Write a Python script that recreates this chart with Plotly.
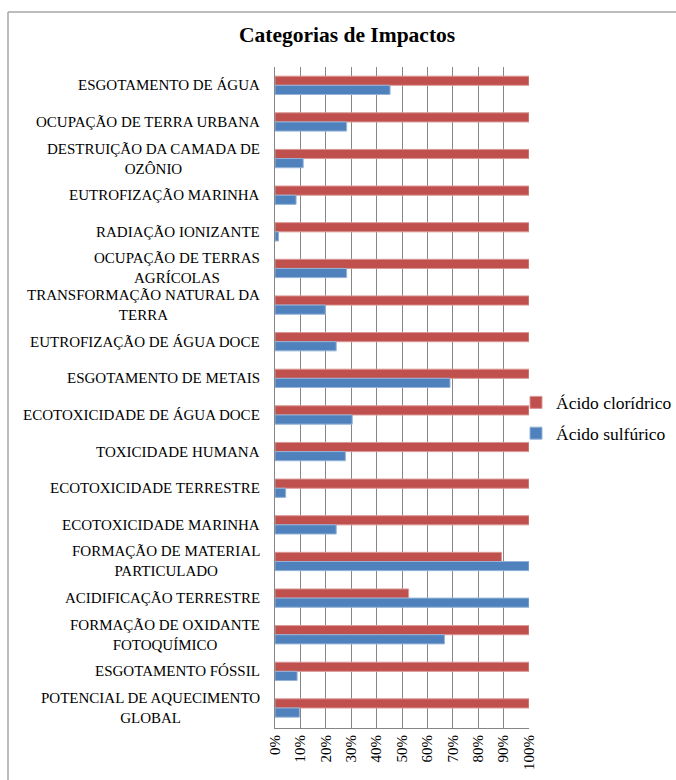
import plotly.graph_objects as go

categories = [
    "ESGOTAMENTO DE ÁGUA",
    "OCUPAÇÃO DE TERRA URBANA",
    "DESTRUIÇÃO DA CAMADA DE OZÔNIO",
    "EUTROFIZAÇÃO MARINHA",
    "RADIAÇÃO IONIZANTE",
    "OCUPAÇÃO DE TERRAS AGRÍCOLAS",
    "TRANSFORMAÇÃO NATURAL DA TERRA",
    "EUTROFIZAÇÃO DE ÁGUA DOCE",
    "ESGOTAMENTO DE METAIS",
    "ECOTOXICIDADE DE ÁGUA DOCE",
    "TOXICIDADE HUMANA",
    "ECOTOXICIDADE TERRESTRE",
    "ECOTOXICIDADE MARINHA",
    "FORMAÇÃO DE MATERIAL PARTICULADO",
    "ACIDIFICAÇÃO TERRESTRE",
    "FORMAÇÃO DE OXIDANTE FOTOQUÍMICO",
    "ESGOTAMENTO FÓSSIL",
    "POTENCIAL DE AQUECIMENTO GLOBAL",
]

tick_labels = [
    "ESGOTAMENTO DE ÁGUA",
    "OCUPAÇÃO DE TERRA URBANA",
    "DESTRUIÇÃO DA CAMADA DE<br>OZÔNIO",
    "EUTROFIZAÇÃO MARINHA",
    "RADIAÇÃO IONIZANTE",
    "OCUPAÇÃO DE TERRAS<br>AGRÍCOLAS",
    "TRANSFORMAÇÃO NATURAL DA<br>TERRA",
    "EUTROFIZAÇÃO DE ÁGUA DOCE",
    "ESGOTAMENTO DE METAIS",
    "ECOTOXICIDADE DE ÁGUA DOCE",
    "TOXICIDADE HUMANA",
    "ECOTOXICIDADE TERRESTRE",
    "ECOTOXICIDADE MARINHA",
    "FORMAÇÃO DE MATERIAL<br>PARTICULADO",
    "ACIDIFICAÇÃO TERRESTRE",
    "FORMAÇÃO DE OXIDANTE<br>FOTOQUÍMICO",
    "ESGOTAMENTO FÓSSIL",
    "POTENCIAL DE AQUECIMENTO<br>GLOBAL",
]

acido_cloridrico = [100, 100, 100, 100, 100, 100, 100, 100, 100, 100, 100, 100, 100, 89.2, 52.6, 100, 100, 100]
acido_sulfurico = [45.3, 28.2, 11.1, 8.3, 1.4, 28.2, 19.8, 24.1, 68.9, 30.4, 27.7, 4.2, 24.1, 100, 100, 66.7, 8.7, 9.6]

x_ticks = [0, 10, 20, 30, 40, 50, 60, 70, 80, 90, 100]

FONT = "Liberation Serif"

# pixel layout helpers
W, H = 676, 780
L, R, T, B = 275, 529, 67, 728


def px_x(px):
    return (px - L) / (R - L)


def px_y(py):
    return (B - py) / (B - T)


fig = go.Figure()
fig.add_trace(go.Bar(
    y=categories, x=acido_cloridrico, orientation="h", name="Ácido clorídrico",
    legendgroup="a",
    marker=dict(color="#C0504D", line=dict(color="#D99795", width=1)),
))
fig.add_trace(go.Bar(
    y=categories, x=acido_sulfurico, orientation="h", name="Ácido sulfúrico",
    legendgroup="b",
    marker=dict(color="#4F81BD", line=dict(color="#95B3D7", width=1)),
))

annotations = []
for cat, lab in zip(categories, tick_labels):
    annotations.append(dict(
        x=px_x(262), xref="paper", y=cat, yref="y", text=lab,
        xanchor="right", yanchor="middle", align="center", showarrow=False,
        font=dict(family=FONT, size=15, color="#000000"),
    ))
annotations.append(dict(
    x=px_x(347), xref="paper", y=px_y(35), yref="paper",
    text="<b>Categorias de Impactos</b>", showarrow=False,
    xanchor="center", yanchor="middle",
    font=dict(family=FONT, size=21.5, color="#000000"),
))

fig.update_layout(
    width=W, height=H,
    margin=dict(l=L, r=W - R, t=T, b=H - B, autoexpand=False),
    paper_bgcolor="white", plot_bgcolor="white",
    barmode="group", bargap=0.5, bargroupgap=0,
    font=dict(family=FONT, color="#000000"),
    showlegend=True,
    legend=dict(
        x=px_x(516), xanchor="left", y=px_y(418), yanchor="middle",
        font=dict(family=FONT, size=17.5, color="#000000"),
        bgcolor="rgba(0,0,0,0)", tracegroupgap=5, itemwidth=30,
    ),
    annotations=annotations,
    shapes=[
        dict(type="line", xref="paper", yref="paper",
             x0=px_x(8), x1=px_x(700), y0=px_y(12), y1=px_y(12),
             line=dict(color="#A6A6A6", width=1.5), layer="below"),
        dict(type="line", xref="paper", yref="paper",
             x0=px_x(8), x1=px_x(8), y0=px_y(12), y1=px_y(800),
             line=dict(color="#A6A6A6", width=1.5), layer="below"),
    ],
    xaxis=dict(
        range=[0, 100], tickvals=x_ticks, ticktext=[f"{v}%" for v in x_ticks],
        tickangle=-90, showgrid=True, gridcolor="#868686", gridwidth=1,
        showline=True, linecolor="#868686", linewidth=1, ticks="", zeroline=False,
        tickfont=dict(family=FONT, size=15, color="#000000"), mirror=False,
    ),
    yaxis=dict(
        categoryorder="array", categoryarray=categories, autorange="reversed",
        showticklabels=False, showgrid=False, showline=True, linecolor="#868686",
        linewidth=1, ticks="", zeroline=False,
    ),
)

fig.write_html("out.html")
